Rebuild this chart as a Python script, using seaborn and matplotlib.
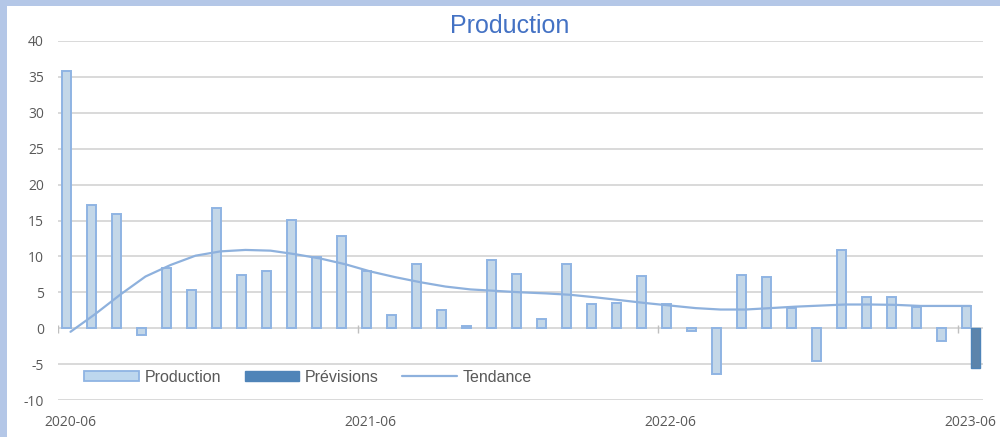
import matplotlib
matplotlib.use("Agg")
import matplotlib.pyplot as plt
from matplotlib.patches import Patch, Rectangle
from matplotlib.lines import Line2D
import numpy as np
import pandas as pd
import seaborn as sns

# monthly categories, 2020-06 .. 2023-06
months = pd.date_range("2020-06-01", periods=37, freq="MS").strftime("%Y-%m").tolist()

production = [35.8, 17.1, 15.9, -1.0, 8.4, 5.3, 16.7, 7.4, 7.9, 15.1, 9.9, 12.9,
              7.9, 1.9, 8.9, 2.5, 0.3, 9.5, 7.6, 1.35, 9.0, 3.35, 3.45, 7.25,
              3.4, -0.45, -6.4, 7.35, 7.1, 2.8, -4.6, 10.9, 4.3, 4.4, 3.0, -1.85,
              3.15]
previsions = [np.nan] * 36 + [-5.6]
tendance = [-0.5, 2.0, 4.7, 7.2, 8.8, 10.1, 10.7, 10.9, 10.8, 10.3, 9.7, 8.9,
            7.9, 7.1, 6.4, 5.8, 5.4, 5.2, 5.0, 4.85, 4.65, 4.3, 3.9, 3.5,
            3.15, 2.8, 2.6, 2.6, 2.8, 3.0, 3.15, 3.3, 3.3, 3.25, 3.1, 3.1, 3.1]
tick_labels = ["2020-06", "2021-06", "2022-06", "2023-06"]

PROD_FILL = "#bdd7ee"
PROD_EDGE = "#8fb4e3"
PREV_FILL = "#4f84b8"
LINE_COL = "#8eb1dd"
TEXT_COL = "#595959"
GRID_COL = "#d9d9d9"

sns.set_style("white")
plt.rcParams["font.family"] = ["Liberation Sans", "DejaVu Sans"]
plt.rcParams["axes.unicode_minus"] = False

df = pd.DataFrame({
    "mois": months * 2,
    "serie": ["Production"] * len(months) + ["Prévisions"] * len(months),
    "valeur": production + previsions,
})

fig = plt.figure(figsize=(10, 4.37), dpi=100)
fig.patch.set_facecolor("#b4c7e7")
fig.patches.append(Rectangle((0.007, 0), 0.993, 1 - 6 / 437, transform=fig.transFigure,
                             facecolor="white", edgecolor="none", zorder=-1))

ax = fig.add_axes([0.058, 1 - 400 / 437, 0.925, (400 - 41) / 437])
ax.set_axisbelow(True)

sns.barplot(data=df, x="mois", y="valeur", hue="serie", order=months,
            hue_order=["Production", "Prévisions"],
            palette={"Production": PROD_FILL, "Prévisions": PREV_FILL},
            width=0.72, gap=0, errorbar=None, legend=False, ax=ax)
for bar in ax.containers[0]:
    bar.set_edgecolor(PROD_EDGE)
    bar.set_linewidth(1.4)
for bar in ax.containers[1]:
    bar.set_edgecolor(PREV_FILL)
    bar.set_linewidth(1.0)

sns.lineplot(x=np.arange(len(months)), y=tendance, color=LINE_COL, linewidth=1.6, ax=ax)

# axis styling
ax.set_ylim(-10, 40)
ax.set_xlim(-0.5, len(months) - 0.5)
ax.set_yticks(range(-10, 45, 5))
ax.yaxis.grid(True, color=GRID_COL, linewidth=1.4)
ax.xaxis.grid(False)
for s in ax.spines.values():
    s.set_visible(False)
ax.set_xticks([0, 12, 24, 36])
ax.set_xticklabels(tick_labels)
ax.tick_params(axis="x", length=0, pad=11, labelsize=10, labelcolor=TEXT_COL)
ax.tick_params(axis="y", length=0, pad=10, labelsize=10, labelcolor=TEXT_COL)
for lab in ax.get_xticklabels() + ax.get_yticklabels():
    lab.set_family(["Open Sans", "DejaVu Sans"])
ax.set_xlabel("")
ax.set_ylabel("")
# small tick marks on the zero line at category boundaries
ax.vlines([-0.5, 11.5, 23.5, 35.5], -0.7, 0.4, color="#bfbfbf", linewidth=1.0)

handles = [
    Patch(facecolor=PROD_FILL, edgecolor=PROD_EDGE, linewidth=1.3),
    Patch(facecolor=PREV_FILL, edgecolor=PREV_FILL),
    Line2D([0], [0], color=LINE_COL, linewidth=1.6),
]
leg = ax.legend(handles, ["Production", "Prévisions", "Tendance"], ncol=3,
                loc="center", bbox_to_anchor=((308 - 58) / 925, (400 - 377) / 359),
                frameon=False, fontsize=11.5, handlelength=3.4, handleheight=0.55,
                handletextpad=0.35, columnspacing=1.5)
for t in leg.get_texts():
    t.set_color(TEXT_COL)

fig.text(0.51, 1 - 26 / 437, "Production", ha="center", va="center",
         fontsize=18, color="#4472c4")

fig.savefig("out.png", dpi=100)
